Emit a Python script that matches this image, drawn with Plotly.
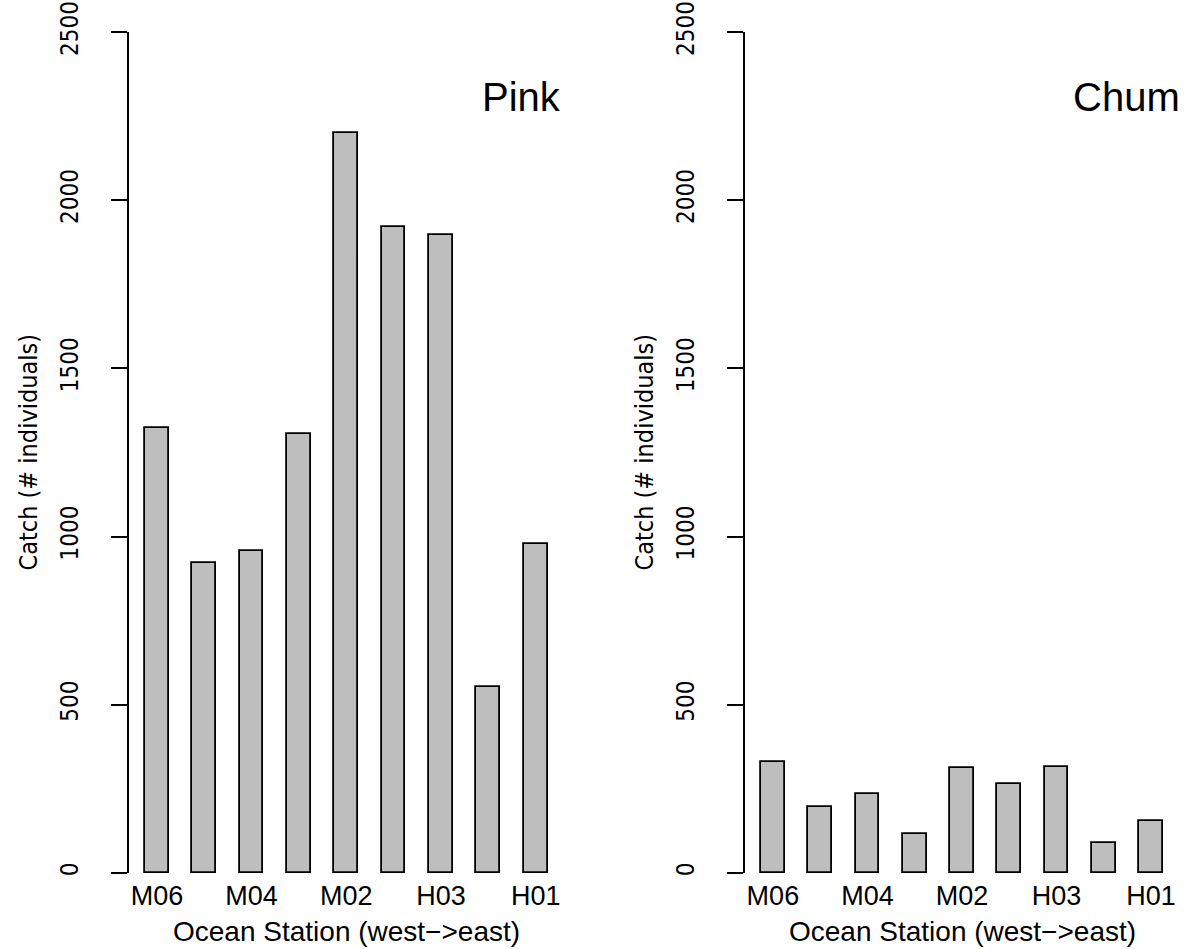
import plotly.graph_objects as go

stations = ["M06", "M05", "M04", "M03", "M02", "M01", "H03", "H02", "H01"]
pink_catch = [1324, 921, 958, 1306, 2200, 1921, 1898, 552, 977]
chum_catch = [330, 197, 235, 117, 311, 265, 315, 90, 155]
shown_labels = ["M06", "M04", "M02", "H03", "H01"]
y_ticks = [0, 500, 1000, 1500, 2000, 2500]
panel_names = ["Pink", "Chum"]
x_title = "Ocean Station (west\u2212>east)"
y_title = "Catch (# individuals)"

W, H = 1184, 949
BAR_FILL = "#bebebe"
NARROW = "Liberation Sans Narrow, Arial Narrow, DejaVu Sans Condensed, Liberation Sans, Arial, sans-serif"
SANS = "Liberation Sans, Arial, Helvetica, sans-serif"

fig = go.Figure()
for i, vals in enumerate([pink_catch, chum_catch]):
    sfx = "" if i == 0 else "2"
    fig.add_trace(go.Bar(
        x=stations, y=vals, width=0.5,
        marker=dict(color=BAR_FILL, line=dict(color="black", width=1.8)),
        xaxis="x" + sfx, yaxis="y" + sfx, showlegend=False,
    ))

ydom = [1 - 873 / H, 1 - 32 / H]
xdoms = [[129 / W, 563.6 / W], [745 / W, 1179 / W]]

for i in range(2):
    sfx = "" if i == 0 else "2"
    fig.layout["xaxis" + sfx] = dict(
        domain=xdoms[i], anchor="y" + sfx, type="category",
        categoryorder="array", categoryarray=stations, automargin=False,
        range=[-0.59, 8.59], showline=False, showgrid=False, zeroline=False,
        ticks="", tickmode="array", tickvals=shown_labels,
        tickfont=dict(family=SANS, size=27, color="black"),
        ticklabelstandoff=4,
    )
    fig.layout["yaxis" + sfx] = dict(
        domain=ydom, anchor="x" + sfx, range=[0, 2500], automargin=False,
        showline=True, linecolor="black", linewidth=1.6,
        showgrid=False, zeroline=False,
        ticks="outside", ticklen=16, tickwidth=1.6, tickcolor="black",
        tickmode="array", tickvals=y_ticks, tickangle=-90,
        tickfont=dict(family=NARROW, size=24, color="black"),
        ticklabelstandoff=24,
    )

annotations = []
for i in range(2):
    x0, x1 = xdoms[i]
    annotations.append(dict(
        text=panel_names[i], xref="paper", yref="paper",
        x=(x1 * W - 1 if i == 0 else 1182) / W, y=1 - 97 / H,
        xanchor="right", yanchor="middle", showarrow=False,
        font=dict(family=SANS, size=40, color="black"),
    ))
    annotations.append(dict(
        text=x_title, xref="paper", yref="paper",
        x=(x0 + x1) / 2, y=0.0, xanchor="center", yanchor="bottom",
        showarrow=False, font=dict(family=SANS, size=28, color="black"),
    ))
    annotations.append(dict(
        text=y_title, xref="paper", yref="paper", textangle=-90,
        x=(x0 * W - 101) / W, y=(ydom[0] + ydom[1]) / 2,
        xanchor="center", yanchor="middle", showarrow=False,
        font=dict(family=NARROW, size=25, color="black"),
    ))

fig.update_layout(
    width=W, height=H, margin=dict(l=0, r=0, t=0, b=0, autoexpand=False),
    paper_bgcolor="white", plot_bgcolor="white",
    annotations=annotations, bargap=0,
)

fig.write_html(
    "out.html",
    config={"displayModeBar": False},
    post_script="document.body.style.margin='0';document.body.style.overflow='hidden';",
)
